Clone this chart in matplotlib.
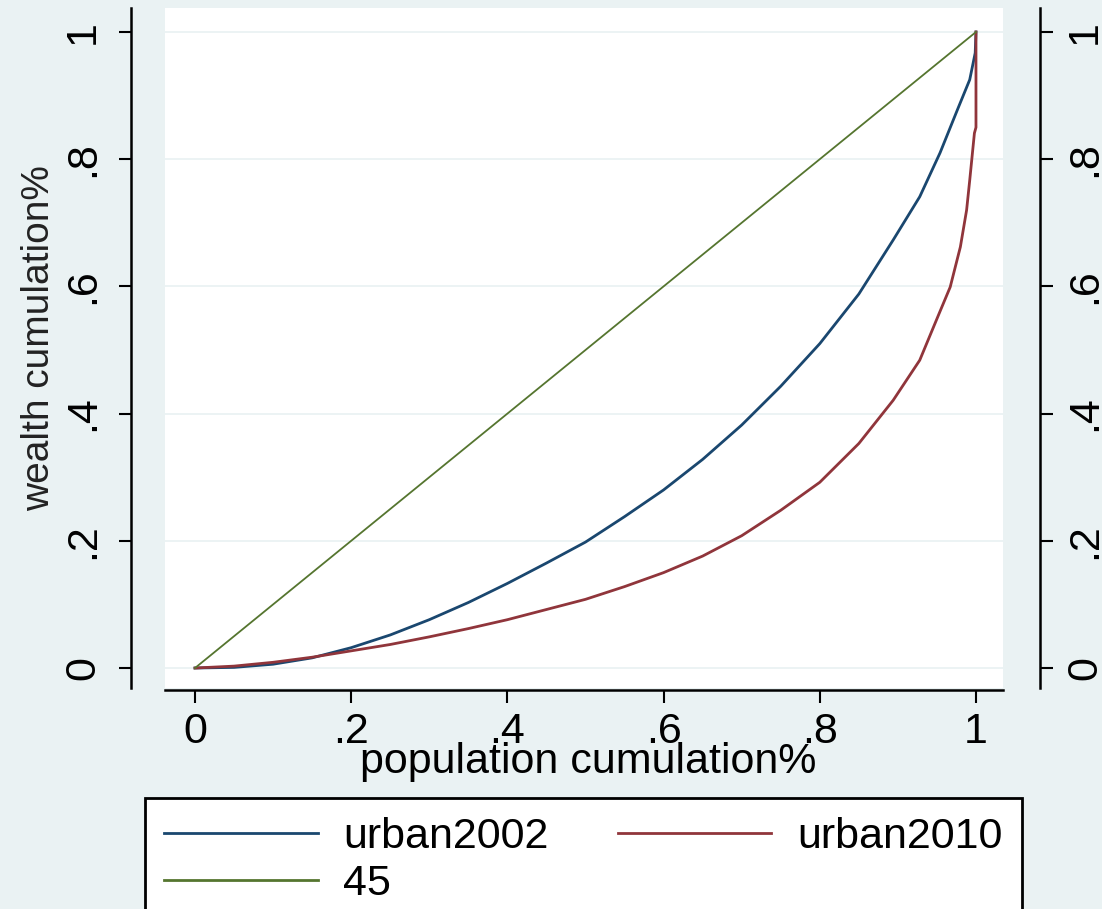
import numpy as np
import matplotlib
matplotlib.use("Agg")
import matplotlib.pyplot as plt

# Lorenz curves
pop_2002 = [0, 0.05, 0.1, 0.15, 0.2, 0.25, 0.3, 0.35, 0.4, 0.45, 0.5, 0.55, 0.6,
            0.65, 0.7, 0.75, 0.8, 0.85, 0.894, 0.928, 0.954, 0.976, 0.992, 0.999, 1.0]
urban2002 = [0, 0.001, 0.006, 0.016, 0.032, 0.052, 0.076, 0.103, 0.133, 0.165, 0.198,
             0.238, 0.280, 0.328, 0.382, 0.443, 0.510, 0.588, 0.673, 0.741, 0.810,
             0.877, 0.925, 0.967, 1.0]
pop_2010 = [0, 0.05, 0.1, 0.15, 0.2, 0.25, 0.3, 0.35, 0.4, 0.45, 0.5, 0.55, 0.6,
            0.65, 0.7, 0.75, 0.8, 0.85, 0.894, 0.928, 0.951, 0.967, 0.98, 0.988,
            0.992, 0.998, 1.0, 1.0]
urban2010 = [0, 0.003, 0.009, 0.017, 0.027, 0.037, 0.049, 0.062, 0.076, 0.092, 0.108,
             0.128, 0.150, 0.176, 0.208, 0.248, 0.292, 0.353, 0.421, 0.484, 0.552,
             0.599, 0.662, 0.720, 0.767, 0.841, 0.85, 1.0]
line45_x = [0, 1]
line45_y = [0, 1]

ticks = [0, 0.2, 0.4, 0.6, 0.8, 1.0]
tick_labels = ["0", ".2", ".4", ".6", ".8", "1"]

W, H = 1102, 909
bg = "#eaf2f3"
navy = "#1a476f"
maroon = "#90353b"
green = "#55752f"
fs = 31

plt.rcParams["font.family"] = ["Liberation Sans", "DejaVu Sans"]

fig = plt.figure(figsize=(W / 100, H / 100), dpi=100, facecolor=bg)
ax = fig.add_axes([165 / W, 1 - 688 / H, (1003 - 165) / W, (688 - 8) / H])
ax.set_facecolor("white")

l1, = ax.plot(pop_2002, urban2002, color=navy, lw=2, zorder=3)
l2, = ax.plot(pop_2010, urban2010, color=maroon, lw=2, zorder=3)
l3, = ax.plot(line45_x, line45_y, color=green, lw=1.3, zorder=3)

ax.set_xlim(-0.0384, 1.0346)
ax.set_ylim(-0.0314, 1.0377)

ax.set_xticks(ticks)
ax.set_xticklabels(tick_labels)
ax.set_yticks(ticks)
ax.set_yticklabels(tick_labels)
ax.yaxis.grid(True, color=bg, lw=1.3)
ax.set_axisbelow(True)

ax.spines["top"].set_visible(False)
ax.spines["right"].set_visible(False)
ax.spines["left"].set_position(("outward", 24.5))
ax.spines["bottom"].set_position(("outward", 1.5))
for s in ["left", "bottom"]:
    ax.spines[s].set_linewidth(1.8)

ax.tick_params(axis="x", length=9, width=1.5, pad=7, labelsize=fs)
ax.tick_params(axis="y", length=9, width=1.5, pad=11, labelsize=fs)
for lab in ax.get_yticklabels():
    lab.set_rotation(90)
    lab.set_va("center")

ax.set_xlabel("population cumulation%", fontsize=fs)
ax.xaxis.set_label_coords(0.505, -0.080)
ax.set_ylabel("wealth cumulation%", fontsize=28, color="#222222")
ax.yaxis.set_label_coords(-0.129, 0.515)

# right axis (same scale)
ax2 = ax.twinx()
ax2.set_ylim(ax.get_ylim())
ax2.set_yticks(ticks)
ax2.set_yticklabels(tick_labels)
for s in ["top", "left", "bottom"]:
    ax2.spines[s].set_visible(False)
ax2.spines["right"].set_position(("outward", 26.6))
ax2.spines["right"].set_linewidth(1.8)
ax2.tick_params(axis="y", length=9, width=1.5, pad=9, labelsize=fs)
for lab in ax2.get_yticklabels():
    lab.set_rotation(90)
    lab.set_va("center")

leg = fig.legend([l1, l3, l2], ["urban2002", "45", "urban2010"], ncol=2,
                 loc="upper left", bbox_to_anchor=(145 / W, 1 - 798 / H),
                 fontsize=fs, frameon=True, fancybox=False, framealpha=1,
                 edgecolor="black", handlelength=3.56, handletextpad=0.6,
                 columnspacing=1.6, borderpad=0.45, labelspacing=0.15,
                 borderaxespad=0)
leg.get_frame().set_linewidth(2)
for h in leg.get_lines():
    h.set_linewidth(2)

fig.savefig("out.png", dpi=100, facecolor=bg)
